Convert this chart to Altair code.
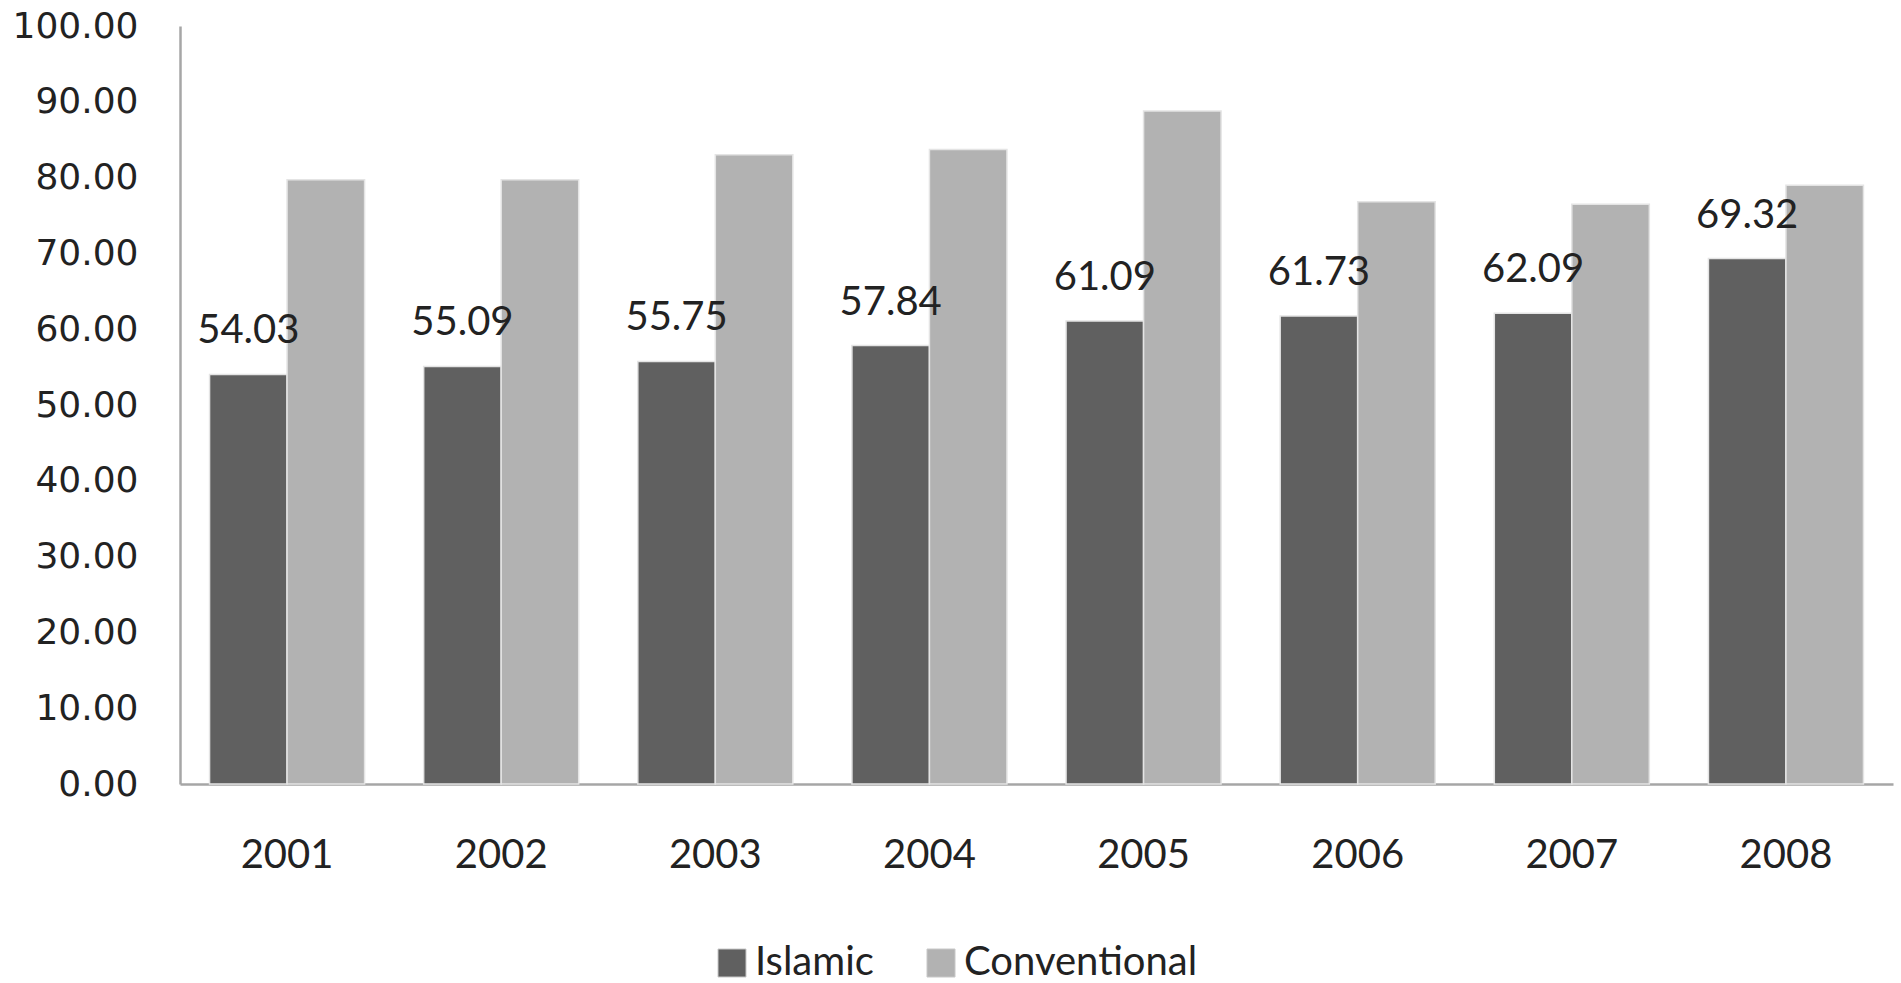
import altair as alt
import pandas as pd

years = ["2001", "2002", "2003", "2004", "2005", "2006", "2007", "2008"]
islamic = [54.03, 55.09, 55.75, 57.84, 61.09, 61.73, 62.09, 69.32]
conventional = [79.7, 79.7, 83.0, 83.7, 88.8, 76.8, 76.5, 79.0]
series = ["Islamic", "Conventional"]
colors = ["#606060", "#b2b2b2"]
y_ticks = [0, 10, 20, 30, 40, 50, 60, 70, 80, 90, 100]

rows = []
for yr, i_val, c_val in zip(years, islamic, conventional):
    rows.append({"year": yr, "series": "Islamic", "value": i_val})
    rows.append({"year": yr, "series": "Conventional", "value": c_val})
df = pd.DataFrame(rows)

x_enc = alt.X(
    "year:N",
    sort=years,
    scale=alt.Scale(paddingInner=0.276, paddingOuter=0.138),
    axis=alt.Axis(
        title=None, labelAngle=0, labelFont="Lato", labelFontSize=40,
        labelColor="#222222", labelPadding=51, ticks=False,
        domainColor="#a6a6a6", domainWidth=2.5, labelBaseline="top",
    ),
)
y_enc = alt.Y(
    "value:Q",
    scale=alt.Scale(domain=[0, 100], nice=False),
    axis=alt.Axis(
        title=None, values=y_ticks, format=".2f", labelFont="DejaVu Sans",
        labelFontSize=36, labelColor="#222222", labelPadding=42, ticks=False,
        grid=False, domainColor="#a6a6a6", domainWidth=2.5,
    ),
)
xoff = alt.XOffset(
    "series:N", sort=series,
    scale=alt.Scale(domain=series, paddingInner=0, paddingOuter=0),
)

bars = alt.Chart(df).mark_bar(stroke="#e4e4e4", strokeWidth=1.5).encode(
    x=x_enc,
    y=y_enc,
    xOffset=xoff,
    color=alt.Color(
        "series:N",
        sort=series,
        scale=alt.Scale(domain=series, range=colors),
        legend=alt.Legend(
            title=None, orient="none", legendX=532, legendY=917,
            direction="horizontal", symbolType="square", symbolSize=784,
            symbolStrokeColor="#c8c8c8", symbolStrokeWidth=1,
            labelFont="Lato", labelFontSize=40, labelColor="#222222",
            labelOffset=3, columnPadding=47, padding=0, labelLimit=0,
        ),
    ),
)

labels = alt.Chart(df).transform_filter(
    alt.datum.series == "Islamic"
).mark_text(
    font="Lato", fontSize=40, baseline="alphabetic", dy=-31, color="#222222"
).encode(
    x=alt.X("year:N", sort=years),
    y=alt.Y("value:Q"),
    xOffset=alt.XOffset("series:N", sort=series),
    text=alt.Text("value:Q", format=".2f"),
)

chart = alt.layer(bars, labels).properties(
    width=1713,
    height=758,
    autosize=alt.AutoSizeParams(type="none"),
    padding={"left": 180, "top": 26, "right": 8, "bottom": 199},
    background="white",
).configure_view(stroke=None)

chart.save("out.html", embed_options={"renderer": "svg", "actions": False})
